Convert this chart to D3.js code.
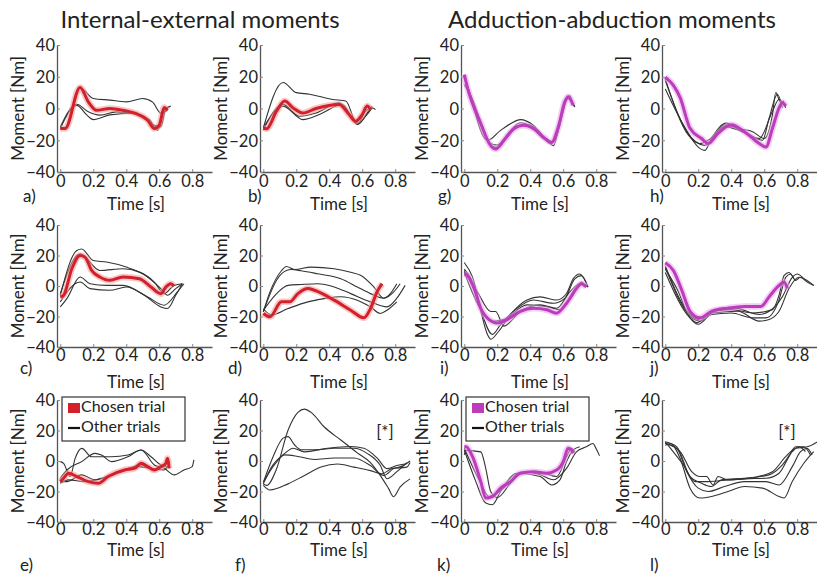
<!DOCTYPE html>
<html><head><meta charset="utf-8">
<script src="https://cdn.jsdelivr.net/npm/d3@7"></script>
<style>
body{margin:0;background:#fff;}
svg text{font-family:Lato,"Open Sans",sans-serif;fill:#222;}
</style></head>
<body><svg id="c" width="817" height="574"></svg>
<script>
// ---- data ----
const titles = ["Internal-external moments","Adduction-abduction moments"];
const xTicks = [0,0.2,0.4,0.6,0.8];
const yTicks = [-40,-20,0,20,40];
const panelLetters = ["a)","b)","g)","h)","c)","d)","i)","j)","e)","f)","k)","l)"];
const legendLabels = ["Chosen trial","Other trials"];

const a_chosen = [[0,-12.6],[0.03,-12.6],[0.12,13.3],[0.17,4.2],[0.22,-1.1],[0.3,0],[0.38,-1.1],[0.46,-3.2],[0.53,-7.4],[0.57,-12.6],[0.6,-10.5],[0.63,0.6],[0.65,-1.1]];
const a_others = [
 [[0,-12.6],[0.03,-12],[0.12,13],[0.2,6.3],[0.3,5.3],[0.4,4.2],[0.5,6.3],[0.56,4],[0.61,-3],[0.65,-1]],
 [[0,-12.6],[0.1,2],[0.16,-4],[0.2,-7],[0.3,-4],[0.44,-3],[0.54,-7],[0.59,-13.7],[0.63,-1],[0.67,1.5]],
 [[0,-11.6],[0.1,2.7],[0.17,-2.1],[0.24,-4.2],[0.34,-2.1],[0.48,-4.2],[0.57,-10.5],[0.61,-11.6],[0.64,0],[0.66,1]]
];
const b_chosen = [[0,-12.3],[0.02,-12.8],[0.08,-1.7],[0.13,4.7],[0.18,0.4],[0.24,-2.8],[0.32,0],[0.46,2.5],[0.52,-3.8],[0.56,-8],[0.6,-3.8],[0.63,1.5],[0.65,-0.6]];
const b_others = [
 [[0,-12.3],[0.12,16.4],[0.2,10],[0.28,9],[0.42,5.7],[0.5,4.7],[0.57,-10],[0.62,-1.7],[0.66,0.4],[0.68,-0.6]],
 [[0,-12.3],[0.12,1.5],[0.24,-7],[0.34,-3.8],[0.48,2.5],[0.57,-10],[0.62,-5],[0.66,0.4]],
 [[0,-13.4],[0.12,2.6],[0.22,-4.9],[0.32,-2.8],[0.46,3.6],[0.54,-6],[0.58,-9.2],[0.63,-2.8],[0.66,1.5]]
];
const c_chosen = [[0,-7.2],[0.02,-6.1],[0.07,11.3],[0.12,20],[0.15,18.9],[0.19,10.2],[0.24,5.9],[0.3,3.7],[0.38,5.9],[0.48,4.8],[0.55,-0.7],[0.61,-5],[0.64,-0.7],[0.67,1.5],[0.69,0]];
const c_others = [
 [[0,-6.1],[0.1,23.3],[0.13,24.3],[0.2,16.7],[0.28,15.7],[0.4,12.4],[0.5,8],[0.61,-1.7],[0.65,-6.1],[0.7,-1.7],[0.74,1.5]],
 [[0,-5],[0.12,21.1],[0.24,10.2],[0.38,11.3],[0.48,9.1],[0.57,2.6],[0.63,-5],[0.69,0.4],[0.74,1.5]],
 [[0,-13.7],[0.04,-8.3],[0.12,5.9],[0.18,1.5],[0.28,0.4],[0.38,0.4],[0.51,-6.1],[0.61,-13.7],[0.65,-14.8],[0.7,-6.1],[0.74,1.5]],
 [[0,-10.4],[0.12,2.6],[0.18,-1.7],[0.3,-2.8],[0.4,-0.7],[0.53,-7.2],[0.63,-12.6],[0.71,-3.9],[0.75,1.5]]
];
const d_chosen = [[0,-18],[0.04,-20.2],[0.11,-10.4],[0.16,-10.4],[0.21,-5],[0.27,-1.7],[0.31,-2.8],[0.43,-9.3],[0.53,-15.9],[0.61,-20.9],[0.65,-14.8],[0.69,-3.9],[0.72,1.5]];
const d_others = [
 [[0,-17],[0.04,-4],[0.11,10],[0.14,12.8],[0.19,10.8],[0.29,12.4],[0.43,11.3],[0.53,9],[0.59,7],[0.67,-0.6],[0.73,-8],[0.77,-5],[0.81,1.5]],
 [[0,-17],[0.11,8],[0.17,10.8],[0.23,10],[0.33,8],[0.47,4.8],[0.57,-0.6],[0.65,-5],[0.73,-8],[0.79,-4],[0.83,1.5]],
 [[0,-16],[0.09,-4],[0.15,0.4],[0.23,1],[0.33,1.5],[0.43,-0.6],[0.53,-5],[0.65,-10.4],[0.75,-13.7],[0.81,-8],[0.86,0.4]],
 [[0,-15],[0.05,-19],[0.15,-14.8],[0.27,-10.4],[0.37,-8.3],[0.47,-7],[0.57,-9.3],[0.65,-13.7],[0.71,-18],[0.75,-15.9],[0.81,-10.4]]
];
const e_chosen = [[0,-13.5],[0.02,-11.3],[0.05,-8],[0.1,-10.2],[0.17,-13.5],[0.23,-14.6],[0.29,-10.2],[0.39,-5.9],[0.45,-4.8],[0.49,-1.5],[0.53,-3.7],[0.57,-5.9],[0.61,-3.7],[0.64,-1.5],[0.65,1.7],[0.66,-4.8]];
const e_others = [
 [[0,-0.4],[0.02,-1.5],[0.06,-10.2],[0.09,1.7],[0.13,8.3],[0.19,2.8],[0.31,2.8],[0.41,3.9],[0.49,7.2],[0.55,2.8],[0.61,-2.6],[0.65,-3.7]],
 [[0,-11.3],[0.04,-5.9],[0.13,-0.4],[0.21,5],[0.25,3.9],[0.31,-0.4],[0.41,2.8],[0.49,7.2],[0.57,-2.6],[0.63,-4.8],[0.69,-9.1],[0.75,-5.9],[0.8,-3.7],[0.81,0.7]],
 [[0,-13.5],[0.04,-13.5],[0.13,-9.1],[0.21,-12.4],[0.29,-10.2],[0.39,-5.9],[0.49,-2.6],[0.57,-5.9],[0.63,-2.6],[0.66,-0.4]],
 [[0,-14.6],[0.05,-12.4],[0.15,-13.5],[0.25,-11.3],[0.35,-7],[0.47,-3.7],[0.55,-4.8],[0.63,-5.9],[0.65,-3.7]]
];
const f_others = [
 [[0,-14.9],[0.02,-16],[0.08,-5.3],[0.15,20.2],[0.21,31.9],[0.25,34],[0.29,31.9],[0.37,22.3],[0.47,13.8],[0.57,5.3],[0.65,-1.1],[0.71,-9.6],[0.76,-18.1],[0.79,-23.4],[0.83,-17],[0.89,-11.7]],
 [[0,-14],[0.06,3],[0.12,15],[0.15,16],[0.19,10.5],[0.23,7.4],[0.33,7.4],[0.43,8.4],[0.55,8.4],[0.63,5],[0.71,-3],[0.75,-11.6],[0.81,-7],[0.87,-1]],
 [[0,-15],[0.05,-4],[0.13,5],[0.18,8.4],[0.25,6],[0.39,8.4],[0.53,9.5],[0.61,8.4],[0.69,2],[0.75,-5],[0.81,-3],[0.86,-2]],
 [[0,-14],[0.06,-3.5],[0.13,4],[0.21,3],[0.31,1],[0.43,2],[0.55,2],[0.65,-3],[0.73,-9.5],[0.79,-5],[0.85,-3],[0.89,0]],
 [[0,-16],[0.04,-19],[0.15,-15],[0.25,-9.5],[0.35,-4],[0.45,-2],[0.55,-4],[0.65,-6.3],[0.72,-8.4],[0.78,-5],[0.87,-4],[0.89,-1]]
];
const g_chosen = [[0,21.3],[0.02,12.8],[0.1,-9.6],[0.16,-23.4],[0.19,-25.5],[0.24,-20.2],[0.3,-12.8],[0.36,-10.6],[0.42,-12.8],[0.48,-18.1],[0.53,-21.3],[0.57,-11.7],[0.61,4.3],[0.63,7.4],[0.66,2.1]];
const g_others = [
 [[0,20.2],[0.02,13.8],[0.14,-20.2],[0.22,-13.8],[0.28,-9.6],[0.34,-7],[0.42,-10.6],[0.51,-21.3],[0.54,-23.4],[0.6,1],[0.63,7.4],[0.67,1]],
 [[0,19],[0.03,11],[0.1,-10],[0.17,-24],[0.2,-24.5],[0.26,-18],[0.33,-11],[0.38,-10],[0.45,-14],[0.52,-22],[0.55,-20],[0.6,-2],[0.62,6],[0.64,8],[0.66,2]],
 [[0,15],[0.04,8],[0.1,-8],[0.16,-22],[0.2,-23],[0.27,-15],[0.34,-9],[0.4,-11],[0.48,-19],[0.53,-22],[0.57,-12],[0.61,3],[0.63,6],[0.67,1]]
];
const h_chosen = [[0,19.8],[0.05,14.4],[0.09,6.9],[0.15,-12.5],[0.22,-18.9],[0.26,-22.1],[0.32,-15.7],[0.4,-10.3],[0.48,-14.6],[0.57,-22.1],[0.61,-24.3],[0.65,-12.5],[0.69,0.4],[0.71,3.7],[0.73,1.5]];
const h_others = [
 [[0,12.3],[0.11,-10.3],[0.2,-24.3],[0.24,-26.4],[0.28,-18.9],[0.37,-9.2],[0.44,-12.5],[0.53,-14.6],[0.6,-18.9],[0.65,-3.9],[0.67,10.1],[0.7,3.7],[0.72,4.7]],
 [[0,17.6],[0.13,-14.6],[0.24,-23.2],[0.36,-10.3],[0.48,-14.6],[0.59,-20],[0.63,-6],[0.68,9],[0.71,0.4]],
 [[0,18.7],[0.14,-16.8],[0.21,-22.1],[0.26,-20],[0.36,-11.4],[0.44,-13.5],[0.57,-18.9],[0.65,-1.7],[0.69,5.8],[0.73,0.4]]
];
const i_chosen = [[0,7.9],[0.02,6.8],[0.06,-1.7],[0.1,-14.6],[0.15,-22],[0.2,-24.2],[0.26,-22],[0.34,-16.7],[0.42,-14.6],[0.5,-15.6],[0.56,-17.8],[0.62,-11.3],[0.68,-1.7],[0.71,1.5],[0.74,-0.6]];
const i_others = [
 [[0,11.1],[0.04,4.7],[0.1,-16.7],[0.14,-31.7],[0.16,-34.9],[0.21,-29.5],[0.28,-18.8],[0.38,-9.2],[0.46,-7.1],[0.56,-9.2],[0.62,-4.9],[0.66,4.7],[0.7,7.9],[0.75,-0.6]],
 [[0,15.4],[0.05,5.8],[0.11,-18.8],[0.17,-31.7],[0.22,-25.3],[0.32,-14.6],[0.42,-9.2],[0.54,-11.3],[0.61,-8.1],[0.67,4.7],[0.71,6.8],[0.75,-0.6]],
 [[0,10.1],[0.08,-3.9],[0.16,-16.7],[0.19,-16.7],[0.24,-26.3],[0.34,-16.7],[0.46,-12.4],[0.56,-14.6],[0.64,-3.9],[0.7,1.5],[0.75,-0.6]],
 [[0,9],[0.1,-15.6],[0.16,-23.1],[0.24,-22],[0.38,-12.4],[0.5,-13.5],[0.58,-15.6],[0.66,-6],[0.71,2.6],[0.74,-0.6]]
];
const j_chosen = [[0,15.3],[0.05,10],[0.1,-2.8],[0.15,-16.6],[0.21,-20.9],[0.28,-16.6],[0.38,-14.5],[0.48,-13.4],[0.58,-13.4],[0.63,-7],[0.69,0.4],[0.72,2.6],[0.74,-1.7]];
const j_others = [
 [[0,11.1],[0.07,-1.7],[0.15,-20.9],[0.2,-25.1],[0.28,-18.7],[0.4,-17.7],[0.53,-20.9],[0.61,-20.9],[0.69,-9.1],[0.73,5.7],[0.76,7.9],[0.79,3.6],[0.82,5.7],[0.86,2.6],[0.9,0.4]],
 [[0,13.2],[0.15,-18.7],[0.2,-21.9],[0.28,-16.6],[0.4,-15.5],[0.53,-17.7],[0.65,-15.5],[0.69,-6],[0.72,6.8],[0.75,8.9],[0.78,4.7]],
 [[0,12.1],[0.15,-19.8],[0.21,-23],[0.3,-16.6],[0.42,-14.5],[0.57,-18.7],[0.63,-16.6],[0.71,-7],[0.77,5.7],[0.8,7.9],[0.85,3.6]],
 [[0,8.9],[0.15,-20.9],[0.19,-24],[0.28,-17.7],[0.44,-16.6],[0.57,-23],[0.63,-21.9],[0.69,-16.6],[0.75,-1.7],[0.81,5.7],[0.86,3.6],[0.9,0.4]]
];
const k_chosen = [[0,9.3],[0.01,9.3],[0.05,2.8],[0.1,-13.5],[0.13,-24.3],[0.17,-23.3],[0.22,-17.8],[0.28,-13.5],[0.34,-8],[0.42,-7],[0.5,-8],[0.56,-5.9],[0.6,-0.4],[0.63,8.3],[0.65,7.2],[0.66,5]];
const k_others = [
 [[0,4],[0.01,7],[0.1,6],[0.13,-4.8],[0.16,-20],[0.2,-24],[0.28,-14.6],[0.36,-7],[0.46,-9],[0.54,-12.3],[0.62,-4.8],[0.68,6],[0.74,9.3],[0.78,11.5],[0.8,8],[0.82,3.5]],
 [[0,7.2],[0.07,-13.5],[0.13,-27.6],[0.17,-28.7],[0.22,-20],[0.32,-8],[0.46,-10.2],[0.53,-15.7],[0.58,-12.4],[0.62,-0.4],[0.66,7.2],[0.7,9.3]],
 [[0,8.3],[0.1,-14.6],[0.15,-23.3],[0.26,-15.7],[0.34,-7.4],[0.48,-8],[0.56,-10.2],[0.62,2.8],[0.65,8.3],[0.67,6.1]]
];
const l_others = [
 [[0,10.4],[0.03,11.5],[0.09,1.7],[0.15,-17.8],[0.21,-24.3],[0.28,-23.3],[0.38,-20],[0.48,-16.7],[0.59,-17.8],[0.69,-23.3],[0.72,-24.3],[0.77,-13.5],[0.84,-1.5],[0.9,6.1]],
 [[0,11.5],[0.07,8.3],[0.13,-7],[0.2,-17.8],[0.26,-20],[0.36,-16.7],[0.48,-13.5],[0.61,-13.5],[0.69,-15.7],[0.77,-3.7],[0.82,6.1],[0.86,8.3],[0.89,3.9]],
 [[0,12.6],[0.07,9.3],[0.15,-10.2],[0.22,-14.6],[0.28,-16.7],[0.34,-12.4],[0.48,-11.3],[0.63,-9.1],[0.71,-2.6],[0.77,6.1],[0.81,9.3],[0.85,6.1]],
 [[0,11.5],[0.09,6.1],[0.16,-7],[0.21,-10.2],[0.25,-10.2],[0.29,-15.7],[0.32,-10.2],[0.38,-12.4],[0.48,-11.7],[0.61,-11.3],[0.69,-8],[0.75,2.8],[0.79,9.3],[0.84,9.3],[0.88,3.9]],
 [[0,12.6],[0.11,-2.6],[0.18,-13.5],[0.26,-13.5],[0.38,-12.4],[0.53,-10.9],[0.65,-7],[0.73,2.8],[0.79,8.3],[0.86,9.3],[0.94,13.7]]
];

// ---- layout ----
const colX = [57,260,461,662];
const rowY = [[45,172],[225,347],[400,522]];
const tickLabelDy = [11,10,9];
const timeY = [206,384,552];
const letterY = [198,370,567];
const letterX = [[23,248,438,650],[20,228,440,650],[20,235,437,650]];
const W = 155;
const RED = "#d3202a", RED_HALO = "#f29a9a";
const MAG = "#bd3cbd", MAG_HALO = "#e7a6e7";
const FS = "16.5px";

const panels = [
 {l:"a",chosen:a_chosen,others:a_others,color:"red"},
 {l:"b",chosen:b_chosen,others:b_others,color:"red"},
 {l:"g",chosen:g_chosen,others:g_others,color:"mag"},
 {l:"h",chosen:h_chosen,others:h_others,color:"mag"},
 {l:"c",chosen:c_chosen,others:c_others,color:"red"},
 {l:"d",chosen:d_chosen,others:d_others,color:"red"},
 {l:"i",chosen:i_chosen,others:i_others,color:"mag"},
 {l:"j",chosen:j_chosen,others:j_others,color:"mag"},
 {l:"e",chosen:e_chosen,others:e_others,color:"red",legend:true},
 {l:"f",chosen:null,others:f_others,color:"red",star:true},
 {l:"k",chosen:k_chosen,others:k_others,color:"mag",legend:true},
 {l:"l",chosen:null,others:l_others,color:"mag",star:true}
];

const svg = d3.select("#c");
svg.append("text").attr("x",200).attr("y",28).attr("text-anchor","middle").style("font-size","24px").text(titles[0]);
svg.append("text").attr("x",612).attr("y",28).attr("text-anchor","middle").style("font-size","24px").text(titles[1]);

const defs = svg.append("defs");

panels.forEach((p,idx)=>{
  const r = Math.floor(idx/4), c = idx%4;
  const x0 = colX[c], yTop = rowY[r][0], yBot = rowY[r][1];
  const x = d3.scaleLinear().domain([-0.02,0.92]).range([x0,x0+W]);
  const y = d3.scaleLinear().domain([-40,40]).range([yBot,yTop]);
  const g = svg.append("g");
  const cid = "clip"+idx;
  defs.append("clipPath").attr("id",cid).append("rect").attr("x",x0).attr("y",yTop-5).attr("width",W+2).attr("height",yBot-yTop+5);

  // axes
  const ax = g.append("g").attr("transform",`translate(0,${yBot})`)
    .call(d3.axisBottom(x).tickValues(xTicks).tickSize(-3).tickSizeOuter(0).tickFormat(d=>d===0?"0":d3.format(".1f")(d)));
  ax.select(".domain").attr("stroke","#555").attr("stroke-width",1.3);
  ax.selectAll(".tick line").attr("stroke","#888");
  ax.selectAll(".tick text").attr("dy",null).attr("y",tickLabelDy[r]).attr("dominant-baseline","middle").style("font-size",FS).attr("fill","#222");
  const ay = g.append("g").attr("transform",`translate(${x0},0)`)
    .call(d3.axisLeft(y).tickValues(yTicks).tickSize(-3).tickSizeOuter(0));
  ay.select(".domain").attr("stroke","#555").attr("stroke-width",1.3);
  ay.selectAll(".tick line").attr("stroke","#888");
  ay.selectAll(".tick text").attr("x",-2).attr("dy","0.35em").style("font-size",FS).attr("fill","#222");

  g.append("text").attr("transform",`translate(${x0-37},${(yTop+yBot)/2}) rotate(-90)`)
    .attr("text-anchor","middle").attr("dominant-baseline","middle").style("font-size","17px").text("Moment [Nm]");
  g.append("text").attr("x",x0+79).attr("y",timeY[r]).attr("text-anchor","middle").attr("dominant-baseline","middle").style("font-size","17px").text("Time [s]");
  g.append("text").attr("x",letterX[r][c]).attr("y",letterY[r]).attr("dominant-baseline","middle").style("font-size","17px").text(panelLetters[idx]);

  const line = d3.line().x(d=>x(d[0])).y(d=>y(d[1])).curve(d3.curveMonotoneX);
  const lg = g.append("g").attr("clip-path",`url(#${cid})`);
  p.others.forEach(s=>{
    lg.append("path").attr("d",line(s)).attr("fill","none").attr("stroke","#333").attr("stroke-width",1.1).attr("stroke-linejoin","round");
  });
  const col = p.color==="red"?RED:MAG, halo = p.color==="red"?RED_HALO:MAG_HALO;
  if(p.chosen){
    lg.append("path").attr("d",line(p.chosen)).attr("fill","none").attr("stroke",halo).attr("stroke-opacity",0.55).attr("stroke-width",6.5).attr("stroke-linejoin","round");
    lg.append("path").attr("d",line(p.chosen)).attr("fill","none").attr("stroke",col).attr("stroke-width",3).attr("stroke-linejoin","round");
  }
  if(p.star){
    g.append("text").attr("x",x0+W-30).attr("y",yTop+34).attr("text-anchor","middle").attr("dominant-baseline","middle").attr("fill","#222").style("font-size","17px").text("[*]");
  }
  if(p.legend){
    const bx = x0+5, by = yTop-3, bw = 123, bh = 44;
    const lgd = g.append("g");
    lgd.append("rect").attr("x",bx).attr("y",by).attr("width",bw).attr("height",bh).attr("fill","#fff").attr("stroke","#333").attr("stroke-width",1.2);
    lgd.append("rect").attr("x",bx+6).attr("y",by+6).attr("width",12).attr("height",10).attr("fill",col);
    lgd.append("line").attr("x1",bx+6).attr("x2",bx+18).attr("y1",by+31).attr("y2",by+31).attr("stroke","#111").attr("stroke-width",2.2);
    lgd.append("text").attr("x",bx+19).attr("y",by+11).attr("dominant-baseline","middle").style("font-size","16px").text(legendLabels[0]);
    lgd.append("text").attr("x",bx+19).attr("y",by+31).attr("dominant-baseline","middle").style("font-size","16px").text(legendLabels[1]);
  }
});
</script></body></html>
